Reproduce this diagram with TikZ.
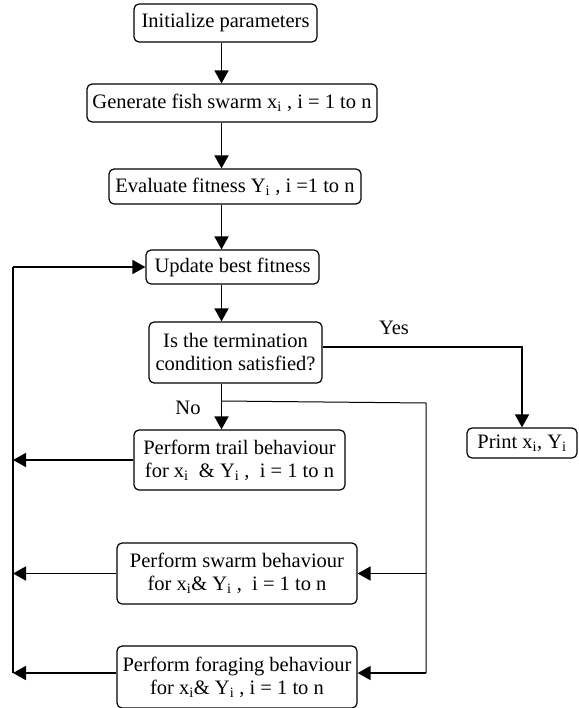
\documentclass[tikz,border=0pt]{standalone}
\usepackage{fontspec}
\setmainfont{Liberation Serif}
\usetikzlibrary{arrows.meta}
\newcommand{\fishx}{x\textsubscript{i}}
\newcommand{\fishy}{Y\textsubscript{i}}

\begin{document}
\begin{tikzpicture}[x=1pt, y=-1pt,
        procbox/.style={draw, line width=1.2pt, rounded corners=5pt, align=center,
                        inner sep=1pt, font=\fontsize{20.5}{23}\selectfont},
        flow/.style={line width=1.7pt, -{Triangle[length=13pt, width=14pt]}},
        feed/.style={line width=1pt},
        tag/.style={font=\fontsize{20.5}{23}\selectfont}]
    \useasboundingbox (0,0) rectangle (578,708);
    % main chain
    \node[procbox, minimum width=183pt, minimum height=38pt] (init)   at (225.5,  23.0) {Initialize parameters};
    \node[procbox, minimum width=290pt, minimum height=38pt] (gen)    at (232.0, 103.0) {Generate fish swarm \fishx\ , i = 1 to n};
    \node[procbox, minimum width=252pt, minimum height=35pt] (eval)   at (235.0, 186.5) {Evaluate fitness \fishy\ , i =1 to n};
    \node[procbox, minimum width=173pt, minimum height=34pt] (update) at (232.5, 267.0) {Update best fitness};
    \node[procbox, minimum width=173pt, minimum height=61pt] (dec)    at (235.5, 352.5) {Is the termination\\condition satisfied?};
    \node[procbox, minimum width=211pt, minimum height=60pt] (trail)  at (239.5, 460.0) {Perform trail behaviour\\for \fishx\ \ \& \fishy\ ,\ \ i = 1 to n};
    \node[procbox, minimum width=240pt, minimum height=61pt] (swarm)  at (237.0, 573.5) {Perform swarm behaviour\\for \fishx\& \fishy\ ,\ \ i = 1 to n};
    \node[procbox, minimum width=240pt, minimum height=62pt] (forage) at (237.0, 677.0) {Perform foraging behaviour\\for \fishx\& \fishy\ , i = 1 to n};
    \node[procbox, minimum width=110pt, minimum height=30pt] (print)  at (522.0, 443.0) {Print \fishx, \fishy};
    % labels
    \node[tag] (yes) at (394, 328) {Yes};
    \node[tag] (no)  at (188, 408) {No};
    % helper points
    \coordinate (spine)   at (221.5,   0);
    \coordinate (split)   at (221.5, 401);
    \coordinate (railtop) at (426,   403);
    \coordinate (railbot) at (426,   673);
    \coordinate (loop)    at (13,      0);
    % arrows
    \draw[flow] (init.south -| spine)   -- (gen.north -| spine);
    \draw[flow] (gen.south -| spine)    -- (eval.north -| spine);
    \draw[flow] (eval.south -| spine)   -- (update.north -| spine);
    \draw[flow] (update.south -| spine) -- (dec.north -| spine);
    \draw[flow] (dec.south -| spine)    -- (trail.north -| spine);
    \draw[flow] ([yshift=5.5pt]dec.east) -| (print.north);
    \draw[feed] (split) -- (railtop) -- (railbot);
    \draw[flow] (railtop |- swarm.east) -- (swarm.east);
    \draw[flow] (railbot) -- (railbot -| forage.east);
    \draw[flow] (trail.west)  -- (trail.west -| loop);
    \draw[flow] (swarm.west)  -- (swarm.west -| loop);
    \draw[flow] (railbot -| forage.west) -- (railbot -| loop);
    \draw[line width=1.2pt] (railbot -| loop) -- (loop |- update.west);
    \draw[flow] (loop |- update.west) -- (update.west);
\end{tikzpicture}
\end{document}
